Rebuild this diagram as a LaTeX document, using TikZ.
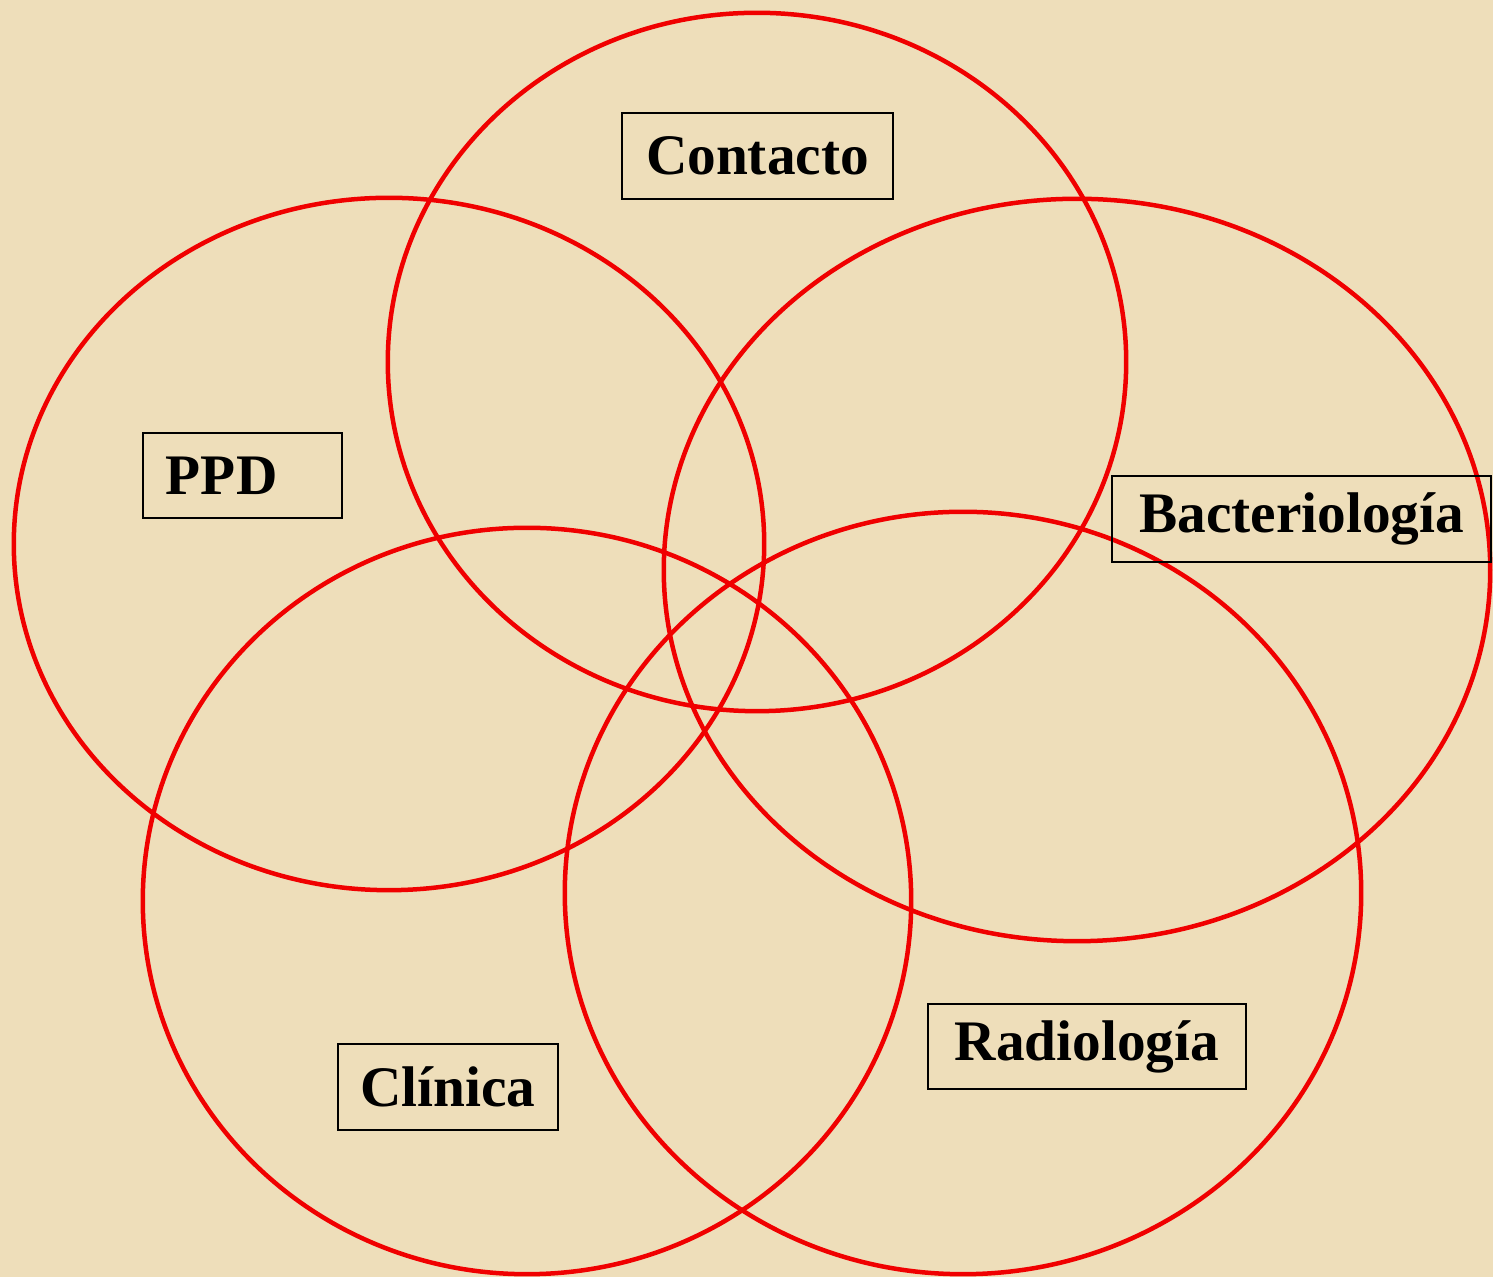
\documentclass[tikz,border=0pt]{standalone}
\usepackage{fontspec}
\setmainfont{Liberation Serif}
\usepackage{tikz}
\usetikzlibrary{positioning}
\usepackage{xcolor}
\definecolor{parchment}{RGB}{238,222,186}
\definecolor{ringred}{RGB}{240,0,0}
\tikzset{
  ring/.style  = {draw=ringred,line width=0.045cm},
  tag/.style   = {draw=black,line width=0.022cm,fill=none,inner sep=0pt,
                  font=\fontsize{16.3}{20}\selectfont\bfseries,align=center},
}

\begin{document}
\begin{tikzpicture}[x=0.01cm,y=-0.01cm]
  \fill[parchment] (0,0) rectangle (1493,1277);
  \useasboundingbox (0,0) rectangle (1493,1277);
  % the five rings
  \draw[ring] (757,362)  ellipse (3.69cm and 3.49cm);
  \draw[ring] (389,544)  ellipse (3.75cm and 3.46cm);
  \draw[ring] (1077,570) ellipse (4.13cm and 3.71cm);
  \draw[ring] (527,901)  ellipse (3.84cm and 3.73cm);
  \draw[ring] (963,893)  ellipse (3.98cm and 3.81cm);
  % labels
  \node[tag,minimum width=2.71cm,minimum height=0.86cm] (contacto) at (757.5,156) {Contacto};
  \node[tag,minimum height=0.85cm,text width=1.53cm,inner xsep=0.23cm,align=left]
        (ppd) at (242.5,475.5) {PPD};
  \node[tag,minimum width=3.79cm,minimum height=0.86cm] (bacterio) at (1301.5,519) {Bacteriología};
  \node[tag,minimum width=3.18cm,minimum height=0.85cm] (radio) at (1087,1046.5) {Radiología};
  \node[tag,minimum width=2.20cm,minimum height=0.86cm] (clinica) at (448,1087) {Clínica};
\end{tikzpicture}
\end{document}
